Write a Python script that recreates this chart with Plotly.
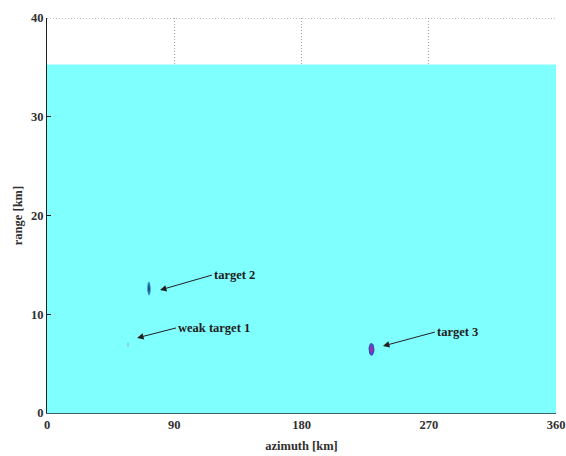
import numpy as np
import plotly.graph_objects as go

# Data
az_extent = [0, 360]
range_top = [35.3, 35.3]
x_ticks = [0, 90, 180, 270, 360]
y_ticks = [0, 10, 20, 30, 40]

target_names = ["weak target 1", "target 2", "target 3"]
target_az = [57.3, 72.1, 229.5]
target_rng = [6.9, 12.6, 6.45]
target_w = [0.9, 1.3, 2.1]      # half-width in azimuth
target_h = [0.25, 0.7, 0.65]    # half-height in range
outer_col = ["#7ad0ee", "#3a86c6", "#3a4fc8"]
inner_col = ["#9ad8f0", "#1a4f8a", "#a0309a"]

arrow_tip_az = [63.7, 79.9, 237.6]
arrow_tip_rng = [7.6, 12.45, 6.78]
arrow_dx = [39, 52, 52]
arrow_dy = [-10, -15, -14]

fig = go.Figure()

fig.add_trace(go.Scatter(x=az_extent, y=range_top, mode="lines", fill="tozeroy",
                         line=dict(width=0, color="#80ffff"), fillcolor="#80ffff",
                         hoverinfo="skip", showlegend=False))

t = np.linspace(0, 2 * np.pi, 60)
for i in range(3):
    ex = target_az[i] + target_w[i] * np.cos(t)
    ey = target_rng[i] + target_h[i] * np.sin(t)
    fig.add_trace(go.Scatter(x=ex, y=ey, mode="lines", fill="toself",
                             line=dict(width=0, color=outer_col[i]), fillcolor=outer_col[i],
                             showlegend=False, hoverinfo="skip"))
    ix = target_az[i] + 0.55 * target_w[i] * np.cos(t)
    iy = target_rng[i] + 0.6 * target_h[i] * np.sin(t)
    fig.add_trace(go.Scatter(x=ix, y=iy, mode="lines", fill="toself",
                             line=dict(width=0, color=inner_col[i]), fillcolor=inner_col[i],
                             showlegend=False, hoverinfo="skip"))

for i in range(3):
    fig.add_annotation(x=arrow_tip_az[i], y=arrow_tip_rng[i], ax=arrow_dx[i], ay=arrow_dy[i],
                       text="<b>" + target_names[i] + "</b>", showarrow=True,
                       arrowhead=2, arrowsize=1.3, arrowwidth=1, arrowcolor="#202020",
                       xanchor="left", yanchor="middle",
                       font=dict(family="Liberation Serif", size=12.5, color="#202020"))

# top dotted border
fig.add_shape(type="line", x0=az_extent[0], x1=az_extent[1], y0=y_ticks[-1], y1=y_ticks[-1],
              line=dict(color="#808080", width=1, dash="1px,2px"), layer="above")

fig.update_layout(
    width=566, height=456,
    margin=dict(l=47, r=10, t=18, b=43),
    paper_bgcolor="white", plot_bgcolor="white",
    xaxis=dict(range=[0, 360], tickvals=x_ticks, showgrid=True, gridcolor="#a0a0a0",
               griddash="1px,2px", gridwidth=1, showline=True, linecolor="#406070", linewidth=1,
               ticks="", zeroline=False, automargin=False,
               tickfont=dict(family="Liberation Serif", size=12.5, color="#303030", weight="bold"),
               title=dict(text="<b>azimuth [km]</b>", standoff=10,
                          font=dict(family="Liberation Serif", size=12.5, color="#303030"))),
    yaxis=dict(range=[0, 40], tickvals=y_ticks, showgrid=False, showline=True,
               linecolor="#202020", linewidth=1, ticks="inside", ticklen=4, tickcolor="#202020",
               zeroline=False, automargin=False,
               tickfont=dict(family="Liberation Serif", size=12.5, color="#303030", weight="bold"),
               title=dict(text="<b>range [km]</b>", standoff=5,
                          font=dict(family="Liberation Serif", size=12.5, color="#303030"))),
)

fig.write_html("out.html")
